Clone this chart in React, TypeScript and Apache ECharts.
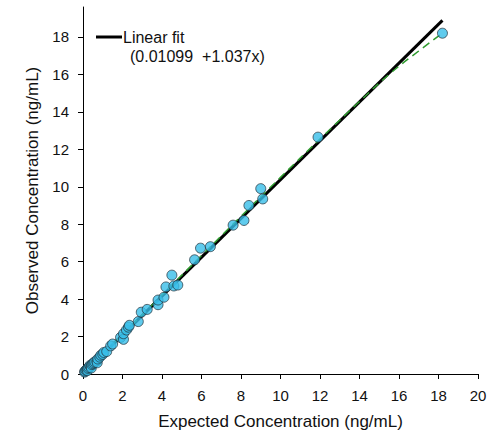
import React, { useEffect, useRef } from "react";
import * as echarts from "echarts";

const observedPoints: [number, number][] = [
  [0.08, 0.1], [0.1, 0.15], [0.15, 0.2], [0.2, 0.25], [0.22, 0.18], [0.25, 0.3],
  [0.3, 0.35], [0.35, 0.45], [0.4, 0.4], [0.42, 0.32], [0.45, 0.5], [0.5, 0.55],
  [0.55, 0.6], [0.6, 0.65], [0.7, 0.7], [0.72, 0.6], [0.75, 0.8], [0.85, 0.9],
  [0.9, 1.0], [1.0, 1.05], [1.05, 1.15], [1.2, 1.2], [1.4, 1.5], [1.5, 1.6],
  [1.9, 1.95], [2.05, 1.85], [2.05, 2.15], [2.2, 2.35], [2.3, 2.5], [2.35, 2.6],
  [2.8, 2.8], [2.95, 3.3], [3.25, 3.45], [3.8, 3.7], [3.8, 3.95], [4.1, 4.1],
  [4.2, 4.65], [4.5, 5.28], [4.6, 4.7], [4.8, 4.75], [5.65, 6.1], [5.95, 6.72],
  [6.45, 6.8], [7.6, 7.95], [8.15, 8.2], [8.4, 9.0], [9.0, 9.9], [9.1, 9.35],
  [11.9, 12.65], [18.2, 18.2],
];

const fitLine: [number, number][] = [[0.1, 0.115], [18.2, 18.885]];

const smoothTrend: [number, number][] = [
  [0.1, 0.14], [2, 2.12], [4, 4.22], [6, 6.32], [8, 8.42], [10, 10.5],
  [12, 12.55], [14, 14.55], [15.5, 16.0], [17, 17.25], [18.2, 18.2],
];

const xTicks = [0, 2, 4, 6, 8, 10, 12, 14, 16, 18, 20];
const yTicks = [0, 2, 4, 6, 8, 10, 12, 14, 16, 18];

const legendTitle = "Linear fit";
const legendEquation = "(0.01099  +1.037x)";
const xName = "Expected Concentration (ng/mL)";
const yName = "Observed Concentration (ng/mL)";

const FONT = "'Liberation Sans', Arial, sans-serif";

export default function App() {
  const ref = useRef<HTMLDivElement>(null);
  useEffect(() => {
    if (!ref.current) return;
    const chart = echarts.init(ref.current, undefined, { renderer: "svg" });
    chart.setOption({
      animation: false,
      backgroundColor: "#ffffff",
      textStyle: { fontFamily: FONT },
      grid: { left: 83, right: 23, top: 7, bottom: 60, containLabel: false },
      xAxis: {
        type: "value",
        min: 0,
        max: 20,
        interval: 2,
        name: xName,
        nameLocation: "middle",
        nameGap: 39,
        nameTextStyle: { fontSize: 17, color: "#111", fontFamily: FONT },
        axisLine: { show: true, lineStyle: { color: "#000", width: 1 } },
        axisTick: { show: true, inside: false, length: 5, lineStyle: { color: "#000" }, customValues: xTicks },
        axisLabel: { fontSize: 15, color: "#111", margin: 14, fontFamily: FONT, customValues: xTicks },
        splitLine: { show: false },
      },
      yAxis: {
        type: "value",
        min: 0,
        max: 19.6,
        interval: 2,
        name: yName,
        nameLocation: "middle",
        nameGap: 40,
        nameTextStyle: { fontSize: 17, color: "#111", fontFamily: FONT },
        axisLine: { show: true, lineStyle: { color: "#000", width: 1 } },
        axisTick: { show: true, inside: false, length: 5, lineStyle: { color: "#000" }, customValues: yTicks },
        axisLabel: { fontSize: 15, color: "#111", margin: 14, fontFamily: FONT, customValues: yTicks },
        splitLine: { show: false },
      },
      graphic: [
        {
          type: "line",
          shape: { x1: 96, y1: 37, x2: 122, y2: 37 },
          style: { stroke: "#000", lineWidth: 3 },
        },
        {
          type: "text",
          x: 123,
          y: 37,
          style: { text: legendTitle, fontSize: 16, fill: "#111", fontFamily: FONT, verticalAlign: "middle" },
        },
        {
          type: "text",
          x: 130,
          y: 56,
          style: { text: legendEquation, fontSize: 16, fill: "#111", fontFamily: FONT, verticalAlign: "middle" },
        },
      ],
      series: [
        {
          type: "line",
          data: fitLine,
          showSymbol: false,
          symbol: "none",
          lineStyle: { color: "#000", width: 3 },
          z: 2,
        },
        {
          type: "line",
          data: smoothTrend,
          smooth: true,
          showSymbol: false,
          symbol: "none",
          lineStyle: { color: "#2f9a2f", width: 1.5, type: [8, 5] },
          z: 3,
        },
        {
          type: "scatter",
          data: observedPoints,
          symbol: "circle",
          symbolSize: 10,
          itemStyle: { color: "#38bee8", borderColor: "#22313a", borderWidth: 0.9 },
          z: 4,
        },
      ],
    });
    return () => chart.dispose();
  }, []);
  return (
    <div
      ref={ref}
      style={{ position: "fixed", left: 0, top: 0, width: 501, height: 435, background: "#fff" }}
    />
  );
}
